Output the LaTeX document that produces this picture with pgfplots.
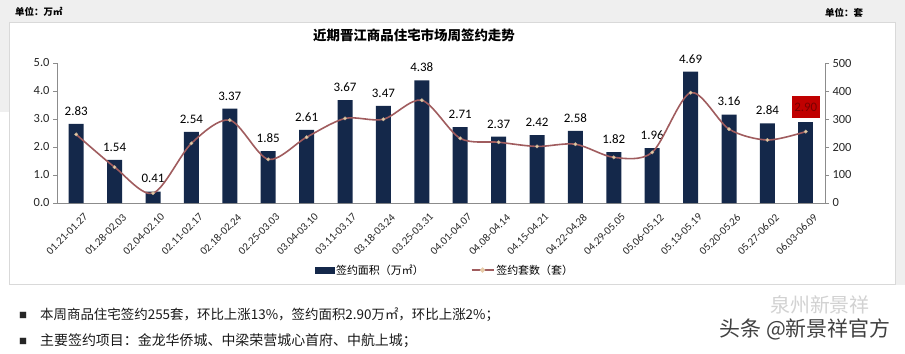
\documentclass[border=0pt]{standalone}
\usepackage{pgfplots}
\pgfplotsset{compat=1.18}
\usepackage{fontspec}
\setmainfont{Carlito}
\newfontfamily\cjk{Noto Sans CJK SC}
\definecolor{navy}{HTML}{14284A}
\definecolor{lineclr}{HTML}{A05C5E}
\definecolor{markclr}{HTML}{E6CBA8}
\definecolor{bg}{HTML}{EFEFEF}
\definecolor{axgray}{HTML}{8C8C8C}
\definecolor{boxred}{HTML}{C00000}
\definecolor{boxtext}{HTML}{7A0000}
\begin{document}
\begin{tikzpicture}[x=1bp,y=1bp]
\useasboundingbox (0,0) rectangle (905,353);
\fill[white] (0,0) rectangle (905,353);
\fill[bg] (0,330) rectangle (905,353);
\fill[bg] (0,241) rectangle (9,330);
\fill[bg] (896,68) rectangle (905,330);
\draw[gray!30] (9.5,68.5) rectangle (895.5,330.5);
\node[font=\cjk\bfseries\fontsize{9.5}{11}\selectfont, anchor=west, inner sep=0] at (15,341) {单位：万㎡};
\node[font=\cjk\bfseries\fontsize{9.5}{11}\selectfont, anchor=west, inner sep=0] at (825,340) {单位：套};
\node[font=\cjk\bfseries\fontsize{13.5}{15}\selectfont] at (414,318) {近期晋江商品住宅市场周签约走势};

\begin{axis}[
  at={(57bp,150bp)}, anchor=south west, scale only axis,
  width=768bp, height=140bp,
  xmin=-0.5, xmax=19.5, ymin=0, ymax=5,
  axis y line*=left, axis x line*=bottom,
  axis line style={axgray,-},
  /pgf/number format/assume math mode=true,
  ytick={0,1,2,3,4,5},
  yticklabel={\pgfmathprintnumber[fixed,fixed zerofill,precision=1]{\tick}},
  yticklabel style={font=\fontsize{12.5}{13}\selectfont, text=black!85},
  xtick={0,...,19},
  xticklabels={01.21-01.27,01.28-02.03,02.04-02.10,02.11-02.17,02.18-02.24,02.25-03.03,03.04-03.10,03.11-03.17,03.18-03.24,03.25-03.31,04.01-04.07,04.08-04.14,04.15-04.21,04.22-04.28,04.29-05.05,05.06-05.12,05.13-05.19,05.20-05.26,05.27-06.02,06.03-06.09},
  xticklabel style={rotate=45, anchor=north east, font=\fontsize{11}{12}\selectfont, inner sep=1bp, xshift=2bp, yshift=-8bp, text=black!85},
  xtick style={draw=none},
  ytick style={axgray},
  tick align=outside, major tick length=4bp,
  ybar, bar width=15bp,
]
\addplot[fill=navy, draw=none, bar shift=0pt,
  nodes near coords={\pgfmathprintnumber[fixed,fixed zerofill,precision=2]{\pgfplotspointmeta}},
  every node near coord/.style={font=\fontsize{13}{14}\selectfont, text=black, anchor=south, yshift=5bp}]
coordinates {(0,2.83) (1,1.54) (2,0.41) (3,2.54) (4,3.37) (5,1.85) (6,2.61) (7,3.67) (8,3.47) (9,4.38) (10,2.71) (11,2.37) (12,2.42) (13,2.58) (14,1.82) (15,1.96) (16,4.69) (17,3.16) (18,2.84)};
\addplot[fill=navy, draw=none, bar shift=0pt,
  nodes near coords={\pgfmathprintnumber[fixed,fixed zerofill,precision=2]{\pgfplotspointmeta}},
  every node near coord/.style={font=\fontsize{13}{14}\selectfont, text=boxtext, fill=boxred, inner xsep=2.5bp, inner ysep=6.5bp, anchor=south, yshift=4bp}]
coordinates {(19,2.90)};
\end{axis}

\begin{axis}[
  at={(57bp,150bp)}, anchor=south west, scale only axis,
  width=768bp, height=140bp,
  xmin=-0.5, xmax=19.5, ymin=0, ymax=500,
  axis y line*=right, axis x line=none,
  axis line style={axgray,-},
  /pgf/number format/assume math mode=true,
  ytick={0,100,200,300,400,500},
  yticklabel style={font=\fontsize{12.5}{13}\selectfont, text=black!85},
  ytick style={axgray},
  tick align=outside, major tick length=4bp,
  legend style={at={(0.505,-0.479)}, anchor=center, draw=none, fill=none,
    legend columns=2, font=\cjk\fontsize{11}{12}\selectfont,
    /tikz/every even column/.append style={column sep=45bp}},
  legend cell align=left,
]
\addlegendimage{legend image code/.code={\fill[navy] (0bp,-3bp) rectangle (19bp,3bp);}}
\addlegendentry{签约面积（万㎡）}
\addplot[smooth, lineclr, line width=1.6bp, mark=*, mark size=1.7bp,
  mark options={fill=markclr, draw=markclr!85!black, line width=0.4bp},
  legend image code/.code={\draw[lineclr,line width=1.6bp] (0bp,0bp) -- (22bp,0bp); \fill[markclr] (11bp,0bp) circle (1.7bp);}]
coordinates {(0,245) (1,128) (2,35) (3,213) (4,296) (5,156) (6,235) (7,302) (8,299) (9,367) (10,231) (11,217) (12,202) (13,210) (14,163) (15,181) (16,394) (17,264) (18,225) (19,255)};
\addlegendentry{签约套数（套）}
\end{axis}

\node[font=\cjk\fontsize{8}{9}\selectfont, text=black!85, inner sep=0] at (23,38) {■};
\node[font=\cjk\fontsize{8}{9}\selectfont, text=black!85, inner sep=0] at (23,12) {■};
\node[font=\cjk\fontsize{13.5}{15}\selectfont, text=black!90, anchor=west, inner sep=0] at (40,38) {本周商品住宅签约255套，环比上涨13\%，签约面积2.90万㎡，环比上涨2\%；};
\node[font=\cjk\fontsize{14}{15}\selectfont, text=black!90, anchor=west, inner sep=0] at (40,12) {主要签约项目：金龙华侨城、中梁荣营城心首府、中航上城；};
\node[font=\cjk\fontsize{20}{21}\selectfont, text=gray!35] at (820,48) {泉州新景祥};
\node[font=\cjk\fontsize{21}{22}\selectfont, text=black!75] at (805,24) {头条 @新景祥官方};
\end{tikzpicture}
\end{document}
